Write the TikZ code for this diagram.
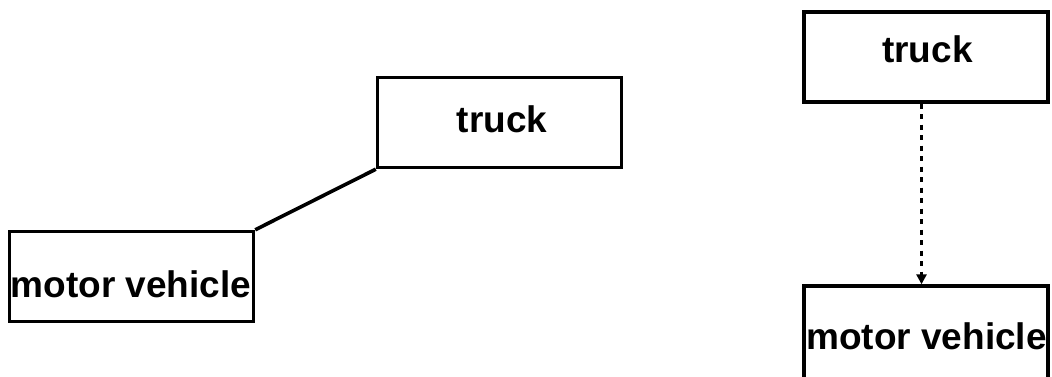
\documentclass[tikz,border=0pt]{standalone}
\usepackage{fontspec}
\setmainfont{Liberation Sans}
\usetikzlibrary{arrows.meta}
\begin{document}
\begin{tikzpicture}[x=1pt,y=-1pt,
  box/.style={draw, line width=3.4pt, rectangle, inner sep=0pt,
    minimum width=244pt, minimum height=90pt},
  lbl/.style={anchor=base, inner sep=0pt, font=\fontsize{37}{40}\selectfont\bfseries},
  assoc/.style={line width=3.6pt},
  dep/.style={line width=3.6pt, dash pattern=on 5pt off 5.5pt,
    -{Triangle[width=10pt,length=10pt]}}]
\useasboundingbox (0,0) rectangle (1052,376);
% left pair: plain association
\node[box] (truckA) at (499.5,122.5) {};
\node[box] (motorA) at (131.5,276.5) {};
\node[lbl] (truckAt) at (502,132) {truck};
\node[lbl] (motorAt) at (131,297) {motor vehicle};
\draw[assoc] (truckA.south west) -- (motorA.north east);
% right pair: dependency arrow; the lower box runs past the page edge
\node[box] (truckB) at (926,57) {};
\node[box, minimum height=110pt] (motorB) at (926,341) {};
\node[lbl] (truckBt) at (927.5,62) {truck};
\node[lbl] (motorBt) at (926.5,349) {motor vehicle};
\draw[dep] ([xshift=-4.5pt]truckB.south) -- ([xshift=-4.5pt]motorB.north);
\end{tikzpicture}
\end{document}
